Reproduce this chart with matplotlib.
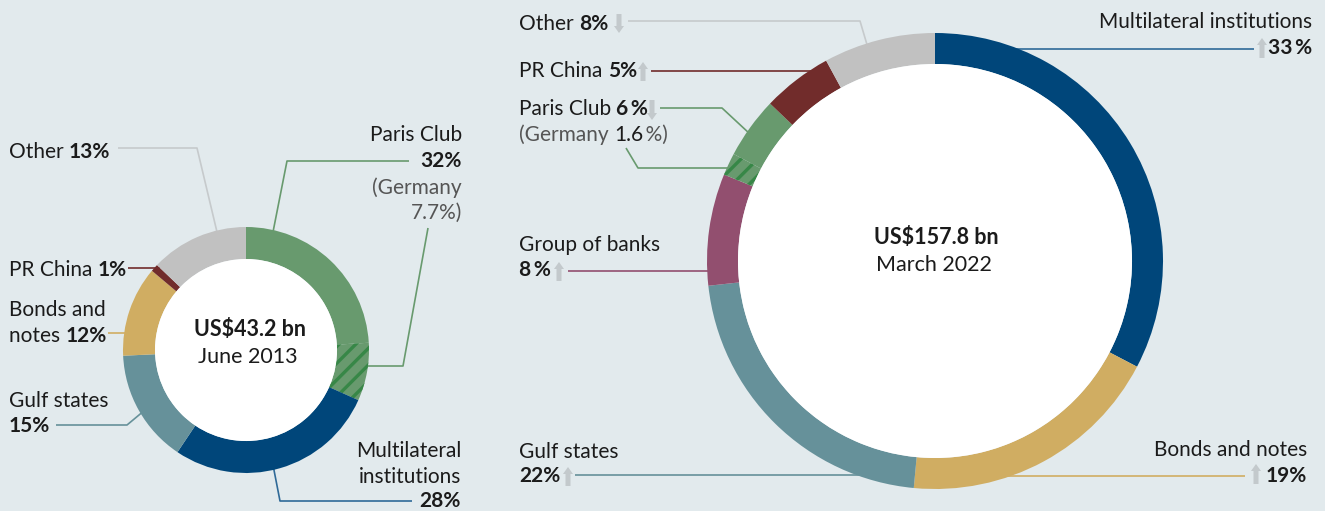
import matplotlib
matplotlib.use("Agg")
import matplotlib.pyplot as plt
from matplotlib.patches import Circle, FancyArrow

plt.rcParams["font.family"] = ["Lato", "DejaVu Sans"]
plt.rcParams["hatch.linewidth"] = 2.4

W, H = 1325, 511
BG = "#e2eaed"
TXT = "#1b1b1b"
GREY_TXT = "#555555"
ARROW = "#c3c9cc"
FS = 15

COLORS = {
    "Multilateral institutions": "#00467a",
    "Bonds and notes": "#d0ad62",
    "Gulf states": "#66919a",
    "Group of banks": "#924f6f",
    "Paris Club": "#689a6e",
    "PR China": "#712c2b",
    "Other": "#c1c1c1",
}
HATCH_GREEN = "#378747"

# June 2013 (clockwise from 12 o'clock)
cats_2013 = ["Paris Club", "Multilateral institutions", "Gulf states",
             "Bonds and notes", "PR China", "Other"]
shares_2013 = [32, 28, 15, 12, 1, 13]
germany_2013 = 7.7
total_2013 = "US$43.2 bn"
date_2013 = "June 2013"

# March 2022 (clockwise from 12 o'clock)
cats_2022 = ["Multilateral institutions", "Bonds and notes", "Gulf states",
             "Group of banks", "Paris Club", "PR China", "Other"]
shares_2022 = [33, 19, 22, 8, 6, 5, 8]
germany_2022 = 1.6
total_2022 = "US$157.8 bn"
date_2022 = "March 2022"

fig = plt.figure(figsize=(W / 100, H / 100), dpi=100, facecolor=BG)
ax = fig.add_axes([0, 0, 1, 1])
ax.set_facecolor(BG)


def P(x, y):
    return x, H - y


def donut(cx, cy, r_out, width, cats, shares, germany, germany_first):
    vals, cols, hatched = [], [], []
    for c, s in zip(cats, shares):
        if c == "Paris Club":
            parts = [(germany, True), (s - germany, False)]
            if not germany_first:
                parts = parts[::-1]
            for v, h in parts:
                vals.append(v)
                cols.append(COLORS[c])
                hatched.append(h)
        else:
            vals.append(s)
            cols.append(COLORS[c])
            hatched.append(False)
    wedges, _ = ax.pie(vals, colors=cols, startangle=90, counterclock=False,
                       center=P(cx, cy), radius=r_out, frame=True,
                       wedgeprops=dict(width=width, linewidth=0))
    for w, h in zip(wedges, hatched):
        w.set_zorder(2)
        if h:
            w.set_hatch("//")
            w.set_edgecolor(HATCH_GREEN)
            w.set_linewidth(0)
    ax.add_patch(Circle(P(cx, cy), r_out - width, facecolor="white",
                        edgecolor="none", zorder=2))


def leader(pts, color):
    xs = [p[0] for p in pts]
    ys = [H - p[1] for p in pts]
    ax.plot(xs, ys, color=color, lw=1.2, zorder=1, solid_capstyle="butt")


def seq(x, y, parts, size=FS):
    prev = None
    for s, weight, color in parts:
        if prev is None:
            prev = ax.text(*P(x, y), s, ha="left", va="center", fontsize=size,
                           fontweight=weight, color=color, zorder=5)
        else:
            prev = ax.annotate(s, xy=(1, 0), xycoords=prev, ha="left",
                               va="bottom", fontsize=size, fontweight=weight,
                               color=color, zorder=5)
    return prev


def rtext(x, y, s, weight="normal", color=TXT, size=FS):
    ax.text(*P(x, y), s, ha="right", va="center", fontsize=size,
            fontweight=weight, color=color, zorder=5)


def arrow(x, y_top, y_bot, up=True):
    kw = dict(width=5, head_width=10, head_length=7,
              length_includes_head=True, color=ARROW, linewidth=0, zorder=4)
    if up:
        ax.add_patch(FancyArrow(x, H - y_bot, 0, y_bot - y_top, **kw))
    else:
        ax.add_patch(FancyArrow(x, H - y_top, 0, -(y_bot - y_top), **kw))


# ---- left donut: June 2013 ----
donut(246, 350, 123, 32, cats_2013, shares_2013, germany_2013, False)
ax.text(*P(250, 330), total_2013, ha="center", va="center", fontsize=15.5,
        fontweight="bold", color=TXT, zorder=5)
ax.text(*P(248, 357), date_2013, ha="center", va="center", fontsize=15.5,
        color=TXT, zorder=5)

leader([(118, 148), (197, 148), (217, 232)], "#c6cacc")
leader([(409, 161), (287, 161), (273, 232)], COLORS["Paris Club"])
leader([(428, 228), (403, 366), (362, 366)], COLORS["Paris Club"])
leader([(128, 268), (160, 268)], COLORS["PR China"])
leader([(108, 333), (128, 333)], COLORS["Bonds and notes"])
leader([(56, 425), (127, 425), (145, 410)], COLORS["Gulf states"])
leader([(273, 465), (280, 501), (412, 501)], "#2f6a98")

seq(9, 152, [("Other ", "normal", TXT), ("13%", "bold", TXT)])
rtext(462, 135, "Paris Club")
rtext(462, 161, "32%", "bold")
rtext(462, 188, "(Germany", color=GREY_TXT)
rtext(462, 213, "7.7%)", color=GREY_TXT)
seq(9, 270, [("PR China ", "normal", TXT), ("1%", "bold", TXT)])
seq(9, 310, [("Bonds and", "normal", TXT)])
seq(9, 336, [("notes ", "normal", TXT), ("12%", "bold", TXT)])
seq(9, 401, [("Gulf states", "normal", TXT)])
seq(9, 426, [("15%", "bold", TXT)])
rtext(461, 451, "Multilateral")
rtext(461, 477, "institutions")
rtext(461, 501, "28%", "bold")

# ---- right donut: March 2022 ----
donut(935, 261, 228, 31, cats_2022, shares_2022, germany_2022, True)
ax.text(*P(936, 237), total_2022, ha="center", va="center", fontsize=15.5,
        fontweight="bold", color=TXT, zorder=5)
ax.text(*P(934, 265), date_2022, ha="center", va="center", fontsize=15.5,
        color=TXT, zorder=5)

leader([(628, 21), (860, 21), (868, 48)], "#c6cacc")
leader([(651, 71), (820, 71)], COLORS["PR China"])
leader([(660, 108), (722, 108), (750, 134)], COLORS["Paris Club"])
leader([(626, 148), (638, 168), (735, 168)], COLORS["Paris Club"])
leader([(568, 271), (715, 271)], COLORS["Group of banks"])
leader([(575, 475), (890, 475)], COLORS["Gulf states"])
leader([(990, 49), (1254, 49)], "#2f6a98")
leader([(1000, 476), (1245, 476)], COLORS["Bonds and notes"])

seq(519, 24, [("Other ", "normal", TXT), ("8%", "bold", TXT)])
arrow(619, 14, 33, up=False)
seq(519, 71, [("PR China ", "normal", TXT), ("5%", "bold", TXT)])
arrow(643, 62, 81, up=True)
seq(519, 109, [("Paris Club ", "normal", TXT), ("6\u2009%", "bold", TXT)])
arrow(652, 100, 120, up=False)
seq(519, 135, [("(Germany ", "normal", GREY_TXT), ("1.6", "normal", TXT),
               ("\u2009%)", "normal", GREY_TXT)])
seq(519, 245, [("Group of banks", "normal", TXT)])
seq(519, 270, [("8\u2009%", "bold", TXT)])
arrow(559, 262, 281, up=True)
seq(519, 452, [("Gulf states", "normal", TXT)])
seq(519, 476, [("22%", "bold", TXT)])
arrow(568, 467, 486, up=True)
rtext(1312, 22, "Multilateral institutions")
rtext(1312, 48, "33\u2009%", "bold")
arrow(1262, 38, 58, up=True)
rtext(1307, 450, "Bonds and notes")
rtext(1307, 476, "19%", "bold")
arrow(1256, 464, 484, up=True)

ax.set_xlim(0, W)
ax.set_ylim(0, H)
ax.set_aspect("equal")
ax.axis("off")

fig.savefig("out.png", dpi=100, facecolor=BG)
